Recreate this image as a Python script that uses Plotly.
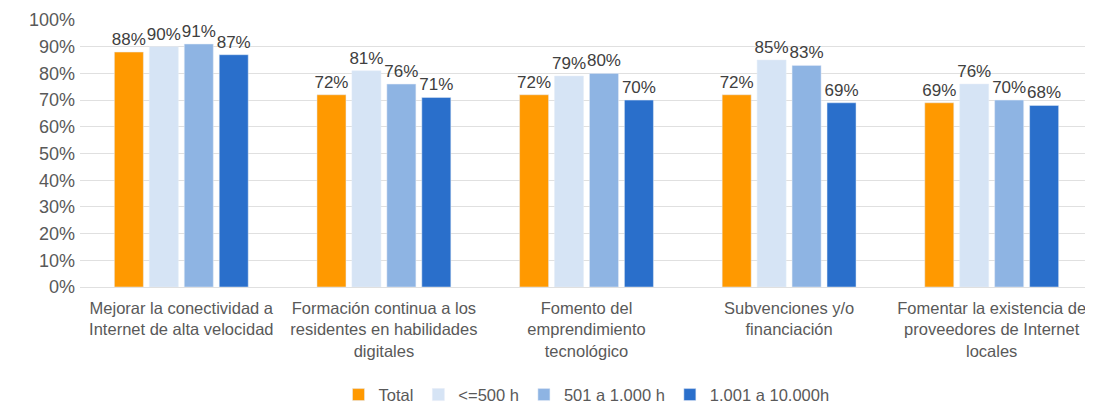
import plotly.graph_objects as go

categories = [
    "Mejorar la conectividad a<br>Internet de alta velocidad",
    "Formación continua a los<br>residentes en habilidades<br>digitales",
    "Fomento del<br>emprendimiento<br>tecnológico",
    "Subvenciones y/o<br>financiación",
    "Fomentar la existencia de<br>proveedores de Internet<br>locales",
]
series_names = ["Total", "<=500 h", "501 a 1.000 h", "1.001 a 10.000h"]
total = [88, 72, 72, 72, 69]
le500 = [90, 81, 79, 85, 76]
r501_1000 = [91, 76, 80, 83, 70]
r1001_10000 = [87, 71, 70, 69, 68]
colors = ["#FF9900", "#D6E4F5", "#8EB4E3", "#2A6FCB"]

fig = go.Figure()
for name, vals, col in zip(series_names, [total, le500, r501_1000, r1001_10000], colors):
    fig.add_trace(go.Bar(
        x=categories, y=vals, name=name, marker_color=col,
        text=[f"{v}%" for v in vals], textposition="outside",
        textfont=dict(size=17, color="#404040"), cliponaxis=False,
        constraintext="none",
    ))

fig.update_layout(
    width=1085, height=400,
    margin=dict(l=72, r=0, t=12, b=121, autoexpand=False),
    paper_bgcolor="white", plot_bgcolor="white",
    barmode="group", bargap=0.31, bargroupgap=0.17,
    font=dict(family="Liberation Sans, Arial, sans-serif", color="#595959"),
    yaxis=dict(range=[0, 100], dtick=10, ticksuffix="%", showgrid=True,
               gridcolor="#E0E0E0", zeroline=False, tickfont=dict(size=18, color="#595959"),
               showline=False, automargin=False, ticklabelstandoff=4),
    xaxis=dict(tickfont=dict(size=16.5, color="#595959"), showline=True,
               linecolor="#E0E0E0", ticks="", automargin=False, ticklabelstandoff=6),
    legend=dict(orientation="h", x=0.5, xanchor="center", y=-0.404, yanchor="middle",
                font=dict(size=16.5, color="#595959"), itemwidth=30,
                traceorder="normal"),
    showlegend=True,
)
fig.write_html("out.html")
